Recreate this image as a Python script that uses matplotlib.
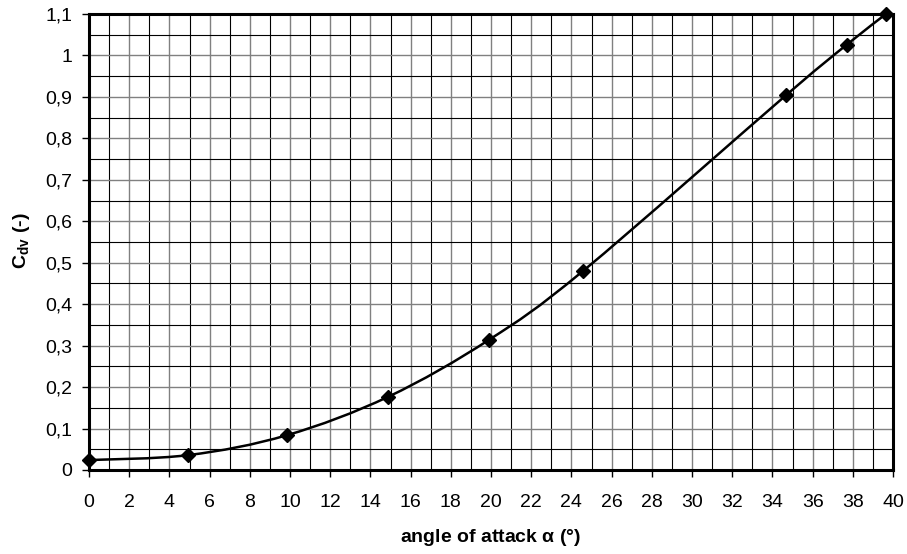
import matplotlib
matplotlib.use("Agg")
import matplotlib.pyplot as plt
from matplotlib.path import Path
from matplotlib.patches import PathPatch
from matplotlib.ticker import MultipleLocator, FuncFormatter
import numpy as np

plt.rcParams['font.family'] = ['Liberation Sans', 'DejaVu Sans']

alpha = [0.0, 4.95, 9.85, 14.9, 19.9, 24.6, 34.7, 37.7, 39.65]
cdv = [0.024, 0.036, 0.084, 0.177, 0.314, 0.481, 0.905, 1.026, 1.100]

fig = plt.figure(figsize=(9.07, 5.54), dpi=100)
ax = fig.add_axes([89/907, 1-470/554, (893-89)/907, (470-14)/554])
ax.set_xlim(0, 40)
ax.set_ylim(0, 1.1)

ax.xaxis.set_major_locator(MultipleLocator(2))
ax.xaxis.set_minor_locator(MultipleLocator(1))
ax.yaxis.set_major_locator(MultipleLocator(0.1))
ax.yaxis.set_minor_locator(MultipleLocator(0.05))
ax.grid(which='major', color='#808080', linewidth=1.0)
ax.grid(which='minor', color='black', linewidth=0.8)
ax.set_axisbelow(True)

def fmt(v, pos):
    s = ('%.1f' % v).rstrip('0').rstrip('.')
    return s.replace('.', ',')
ax.yaxis.set_major_formatter(FuncFormatter(fmt))
ax.xaxis.set_major_formatter(FuncFormatter(lambda v, p: '%d' % v))

ax.tick_params(which='major', direction='out', length=5, width=1, labelsize=14, colors='black')
ax.tick_params(axis='x', pad=12)
ax.tick_params(axis='y', pad=7)
ax.tick_params(which='minor', length=0)
for s in ax.spines.values():
    s.set_linewidth(2.2)
    s.set_color('black')

# smoothed line (Bezier, Catmull-Rom style control points)
x = np.array(alpha); y = np.array(cdv)
verts = [(x[0], y[0])]
codes = [Path.MOVETO]
n = len(x)
for i in range(n - 1):
    p0 = np.array([x[max(i-1, 0)], y[max(i-1, 0)]])
    p1 = np.array([x[i], y[i]])
    p2 = np.array([x[i+1], y[i+1]])
    p3 = np.array([x[min(i+2, n-1)], y[min(i+2, n-1)]])
    c1 = p1 + (p2 - p0) / 6.0
    c2 = p2 - (p3 - p1) / 6.0
    verts += [tuple(c1), tuple(c2), tuple(p2)]
    codes += [Path.CURVE4] * 3
ax.add_patch(PathPatch(Path(verts, codes), facecolor='none', edgecolor='black', linewidth=1.8, zorder=3, clip_on=False))
ax.plot(alpha, cdv, linestyle='none', marker='D', color='black', markersize=7, zorder=4, clip_on=False)

fig.text(491/907, 1-538/554, r'angle of attack $\mathregular{\alpha}$ (°)', fontsize=14,
         fontweight='bold', ha='center', va='center')
fig.text(21/907, 1-241/554, r'C$_{\mathregular{dv}}$ (-)', fontsize=14, fontweight='bold',
         rotation=90, ha='center', va='center')

fig.savefig('out.png', dpi=100)
